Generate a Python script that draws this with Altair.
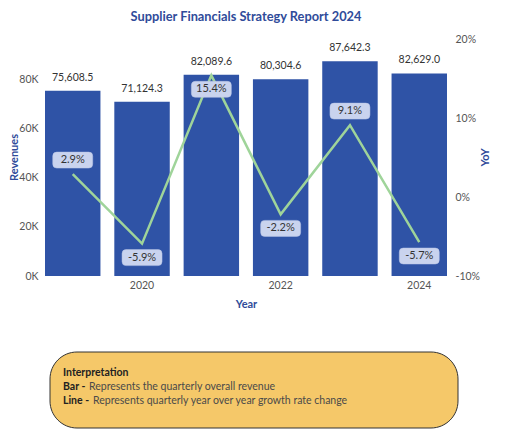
import altair as alt
import pandas as pd

years = [2019, 2020, 2021, 2022, 2023, 2024]
revenues = [75608.5, 71124.3, 82089.6, 80304.6, 87642.3, 82629.0]
yoy = [2.9, -5.9, 15.4, -2.2, 9.1, -5.7]
labels_above = [2019, 2023]

note_title = "Interpretation"
note_keys = ["Bar -", "Line -"]
note_texts = ["Represents the quarterly overall revenue",
              "Represents quarterly year over year growth rate change"]

df = pd.DataFrame({"Year": years, "Revenue": revenues, "YoY": yoy})
df["above"] = df["Year"].isin(labels_above)

FONT = "Lato"
BLUE = "#2f53a6"
TITLE_BLUE = "#2f4b9a"
GREEN = "#9fd49a"
BOX = "#c9d3ee"

xenc = alt.X("Year:O",
             scale=alt.Scale(paddingInner=0.2, paddingOuter=0),
             axis=alt.Axis(title="Year", labelAngle=0,
                           labelExpr="datum.value % 2 == 0 ? datum.label : ''",
                           ticks=False, domain=False, labelPadding=4,
                           titlePadding=8))

base = alt.Chart(df)

bars = base.mark_bar(color=BLUE).encode(
    x=xenc,
    y=alt.Y("Revenue:Q", scale=alt.Scale(domain=[0, 96700], nice=False),
            axis=alt.Axis(title="Revenues", values=[0, 20000, 40000, 60000, 80000],
                          labelExpr="datum.value / 1000 + 'K'",
                          grid=False, ticks=False, domain=False,
                          labelPadding=7, titleX=-31, titleY=118,
                          titleAngle=-90, titleAlign="center",
                          titleBaseline="middle")),
)

bar_text = base.mark_text(dy=-13, fontSize=10.5, color="#333333", font=FONT).encode(
    x=alt.X("Year:O"),
    y=alt.Y("Revenue:Q"),
    text=alt.Text("Revenue:Q", format=",.1f"),
)

yscale = alt.Scale(domain=[-10, 20], nice=False)
yaxis = alt.Axis(title="YoY", orient="right", values=[-10, 0, 10, 20],
                 labelExpr="datum.value + '%'", grid=False, ticks=False,
                 domain=False, labelPadding=8, titleX=38, titleY=118,
                 titleAngle=-90, titleAlign="center", titleBaseline="middle")

line = base.mark_line(color=GREEN, strokeWidth=2.5).encode(
    x=alt.X("Year:O"),
    y=alt.Y("YoY:Q", scale=yscale, axis=yaxis),
)

rr = ("M -0.8,-0.4 L 0.8,-0.4 Q 1,-0.4 1,-0.2 L 1,0.2 Q 1,0.4 0.8,0.4 "
      "L -0.8,0.4 Q -1,0.4 -1,0.2 L -1,-0.2 Q -1,-0.4 -0.8,-0.4 Z")

lab = base.transform_calculate(
    lbl="replace(format(datum.YoY, '.1f'), '\u2212', '-') + '%'"
)


def label_layers(above):
    off = -14 if above else 14
    sub = lab.transform_filter(
        "datum.above" if above else "!datum.above")
    box = sub.mark_point(shape=rr, size=1600, filled=True, fill=BOX,
                         stroke="#b9c4e6", strokeWidth=0.5, opacity=1,
                         yOffset=off).encode(
        x=alt.X("Year:O"), y=alt.Y("YoY:Q", scale=yscale))
    txt = sub.mark_text(fontSize=11, color="#333333", font=FONT,
                        yOffset=off).encode(
        x=alt.X("Year:O"), y=alt.Y("YoY:Q", scale=yscale), text="lbl:N")
    return box + txt


one = pd.DataFrame({"a": [1]})
note_box = alt.Chart(one).mark_rect(
    fill="#f5c869", stroke="#333333", strokeWidth=1, cornerRadius=27
).encode(x=alt.value(5), x2=alt.value(413), y=alt.value(313), y2=alt.value(389))

note_df = pd.DataFrame({"t": [note_title]})
n_title = alt.Chart(note_df).mark_text(
    align="left", baseline="middle", fontSize=10.5, fontWeight="bold",
    color="#222222", font=FONT).encode(
    x=alt.value(18), y=alt.value(334), text="t:N")

keys_df = pd.DataFrame({"k": note_keys, "t": note_texts})
n_key1 = alt.Chart(keys_df.iloc[[0]]).mark_text(
    align="left", baseline="middle", fontSize=10.5, fontWeight="bold",
    color="#222222", font=FONT).encode(
    x=alt.value(18), y=alt.value(348), text="k:N")
n_key2 = alt.Chart(keys_df.iloc[[1]]).mark_text(
    align="left", baseline="middle", fontSize=10.5, fontWeight="bold",
    color="#222222", font=FONT).encode(
    x=alt.value(18), y=alt.value(362), text="k:N")
n_txt1 = alt.Chart(keys_df.iloc[[0]]).mark_text(
    align="left", baseline="middle", fontSize=10.5, color="#4a4a4a", font=FONT).encode(
    x=alt.value(44), y=alt.value(348), text="t:N")
n_txt2 = alt.Chart(keys_df.iloc[[1]]).mark_text(
    align="left", baseline="middle", fontSize=10.5, color="#4a4a4a", font=FONT).encode(
    x=alt.value(48), y=alt.value(362), text="t:N")

left = alt.layer(bars, bar_text)
right = alt.layer(line, label_layers(True), label_layers(False))

chart = alt.layer(left, right, note_box, n_title, n_key1, n_key2, n_txt1, n_txt2).resolve_scale(
    y="independent"
).properties(
    width=402, height=237,
    title=alt.TitleParams("Supplier Financials Strategy Report 2024", fontSize=12.8,
                          fontWeight="bold", color=TITLE_BLUE, font=FONT,
                          anchor="middle", offset=10),
    autosize=alt.AutoSizeParams(type="none"),
    padding={"left": 37, "top": 31, "right": 54, "bottom": 156},
).configure_view(stroke=None).configure_axis(
    labelFont=FONT, labelFontSize=10.5, labelColor="#555555",
    titleFont=FONT, titleFontSize=11, titleFontWeight="bold", titleColor=TITLE_BLUE,
)

chart.save("out.html", embed_options={"renderer": "svg", "actions": False})
